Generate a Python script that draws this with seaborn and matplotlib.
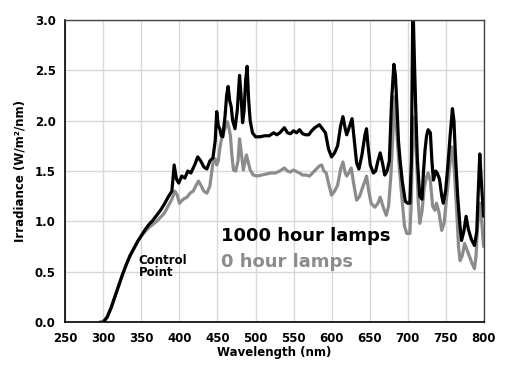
import matplotlib
matplotlib.use("Agg")
import matplotlib.pyplot as plt
import seaborn as sns
import pandas as pd

# ---- data ----
wl_1000 = [300, 305, 310, 315, 320, 325, 330, 335, 340, 345, 350, 355, 360, 365, 370, 375, 380, 385, 390,
           393, 396, 399, 403, 407, 411, 415, 420, 424, 428, 432, 436, 440, 444, 447, 449, 451, 453, 455, 457,
           460, 462, 464, 466, 468, 470, 473, 476, 479, 481, 483, 485, 487, 489, 491, 493, 496, 500, 506, 512,
           518, 524, 528, 532, 538, 542, 546, 550, 554, 558, 562, 566, 570, 574, 578, 584, 588, 592, 596, 600,
           604, 608, 612, 615, 618, 620, 624, 627, 630, 633, 636, 640, 644, 646, 648, 651, 655, 658, 661, 664,
           667, 670, 673, 676, 679, 682, 684, 686, 688, 690, 693, 697, 700, 703, 705, 707, 709, 711, 713, 716,
           719, 721, 723, 725, 727, 730, 732, 734, 737, 739, 742, 745, 747, 750, 753, 756, 759, 761, 763, 766,
           769, 771, 774, 777, 780, 784, 788, 791, 793, 795, 797, 800]
irr_1000 = [0.00, 0.05, 0.14, 0.25, 0.36, 0.47, 0.57, 0.66, 0.73, 0.80, 0.86, 0.92, 0.97, 1.01, 1.06, 1.11, 1.17, 1.24, 1.30,
            1.56, 1.42, 1.38, 1.45, 1.43, 1.50, 1.48, 1.56, 1.64, 1.60, 1.54, 1.52, 1.60, 1.63, 1.80, 2.09, 1.95, 1.92, 1.85, 1.84,
            2.05, 2.25, 2.34, 2.20, 2.14, 2.00, 1.92, 2.10, 2.45, 2.25, 1.98, 2.10, 2.40, 2.54, 2.20, 2.00, 1.88, 1.84, 1.84, 1.85,
            1.85, 1.88, 1.86, 1.88, 1.93, 1.88, 1.87, 1.90, 1.88, 1.91, 1.87, 1.86, 1.86, 1.90, 1.93, 1.96, 1.92, 1.88, 1.72, 1.64,
            1.68, 1.75, 1.95, 2.04, 1.92, 1.86, 1.95, 2.02, 1.80, 1.58, 1.52, 1.66, 1.86, 1.92, 1.75, 1.56, 1.48, 1.50, 1.60, 1.68,
            1.58, 1.46, 1.50, 1.60, 2.20, 2.56, 2.45, 2.15, 1.80, 1.62, 1.40, 1.20, 1.18, 1.18, 1.60, 3.20, 2.60, 2.05, 1.60, 1.25,
            1.22, 1.50, 1.71, 1.85, 1.91, 1.88, 1.60, 1.41, 1.50, 1.48, 1.42, 1.25, 1.18, 1.30, 1.55, 1.85, 2.12, 2.00, 1.65, 1.24,
            0.95, 0.81, 0.90, 1.05, 0.92, 0.82, 0.76, 0.90, 1.30, 1.67, 1.40, 1.05]

wl_0 = [295, 300, 305, 310, 315, 320, 325, 330, 335, 340, 345, 350, 355, 360, 365, 370, 375, 380, 385, 390,
        394, 397, 400, 405, 410, 414, 418, 422, 425, 428, 432, 436, 440, 444, 447, 449, 451, 453, 455, 458,
        461, 463, 465, 467, 469, 471, 474, 477, 479, 481, 484, 486, 488, 490, 493, 497, 502, 508, 514, 520,
        526, 532, 538, 542, 546, 550, 555, 558, 562, 566, 571, 575, 580, 584, 587, 590, 593, 596, 600, 604,
        608, 612, 615, 618, 620, 624, 626, 629, 633, 637, 641, 644, 646, 649, 652, 657, 661, 664, 668, 672,
        675, 678, 681, 683, 685, 687, 690, 693, 696, 699, 703, 705, 707, 709, 712, 714, 716, 719, 722, 725,
        727, 730, 733, 736, 738, 741, 745, 748, 751, 754, 758, 760, 762, 765, 767, 769, 772, 775, 778, 781,
        785, 788, 790, 792, 795, 797, 800]
irr_0 = [0.00, 0.01, 0.05, 0.14, 0.25, 0.36, 0.47, 0.57, 0.66, 0.73, 0.80, 0.86, 0.90, 0.94, 0.97, 1.00, 1.04, 1.08, 1.15, 1.22,
         1.30, 1.26, 1.18, 1.22, 1.24, 1.28, 1.30, 1.36, 1.40, 1.36, 1.30, 1.28, 1.35, 1.58, 1.62, 1.56, 1.60, 1.72, 1.81, 1.88,
         1.95, 1.99, 1.93, 1.85, 1.65, 1.51, 1.50, 1.60, 1.82, 1.70, 1.51, 1.58, 1.66, 1.60, 1.51, 1.46, 1.45, 1.46, 1.47, 1.48,
         1.48, 1.50, 1.53, 1.50, 1.49, 1.51, 1.49, 1.48, 1.46, 1.46, 1.45, 1.48, 1.52, 1.55, 1.56, 1.50, 1.48, 1.38, 1.26, 1.30,
         1.36, 1.52, 1.59, 1.48, 1.45, 1.50, 1.53, 1.38, 1.21, 1.25, 1.34, 1.40, 1.45, 1.30, 1.18, 1.14, 1.18, 1.24, 1.14, 1.06,
         1.15, 1.45, 1.90, 2.24, 2.00, 1.75, 1.45, 1.20, 0.95, 0.88, 0.88, 1.20, 2.04, 1.90, 1.61, 1.20, 0.98, 1.10, 1.34, 1.44,
         1.48, 1.40, 1.15, 1.11, 1.18, 1.10, 0.91, 0.98, 1.21, 1.45, 1.74, 1.65, 1.45, 1.05, 0.75, 0.61, 0.66, 0.78, 0.72, 0.66,
         0.58, 0.53, 0.65, 0.94, 1.18, 1.05, 0.75]

x_ticks = [250, 300, 350, 400, 450, 500, 550, 600, 650, 700, 750, 800]
y_ticks = [0.0, 0.5, 1.0, 1.5, 2.0, 2.5, 3.0]
series_labels = ["1000 hour lamps", "0 hour lamps"]

df = pd.concat([
    pd.DataFrame({"wl": wl_0, "irr": irr_0, "series": series_labels[1]}),
    pd.DataFrame({"wl": wl_1000, "irr": irr_1000, "series": series_labels[0]}),
], ignore_index=True)

sns.set_style("white")
plt.rcParams["font.family"] = ["DejaVu Sans"]
plt.rcParams["text.color"] = "black"
plt.rcParams["axes.labelcolor"] = "black"
plt.rcParams["xtick.color"] = "black"
plt.rcParams["ytick.color"] = "black"

fig = plt.figure(figsize=(5.32, 3.74), dpi=100)
ax = fig.add_axes([0.123, 0.139, 0.786, 0.8075])

sns.lineplot(data=df, x="wl", y="irr", hue="series",
             hue_order=[series_labels[1], series_labels[0]],
             palette=["#8c8c8c", "#000000"], linewidth=2.3, sort=False,
             estimator=None, legend=False, ax=ax)

ax.set_xlim(250, 800)
ax.set_ylim(0, 3.0)
ax.set_xticks(x_ticks)
ax.set_xticklabels([str(t) for t in x_ticks], fontsize=8.5, fontweight="bold", color="black")
ax.set_yticks(y_ticks)
ax.set_yticklabels([f"{t:.1f}" for t in y_ticks], fontsize=8.5, fontweight="bold", color="black")
ax.grid(True, color="#d8d8d8", linewidth=1.0)
ax.set_axisbelow(True)
for side in ["left", "bottom"]:
    ax.spines[side].set_color("black")
    ax.spines[side].set_linewidth(1.2)
for side in ["top", "right"]:
    ax.spines[side].set_color("#444444")
    ax.spines[side].set_linewidth(1.0)
ax.tick_params(axis="both", direction="out", length=4, width=1.2, color="black", pad=3)

ax.set_xlabel("Wavelength (nm)", fontsize=8.5, fontweight="bold", labelpad=1, color="black")
ax.set_ylabel("Irradiance (W/m²/nm)", fontsize=8.5, fontweight="bold", labelpad=6, color="black")

ax.text(346, 0.68, "Control\nPoint", fontsize=8.5, fontweight="bold", color="black",
        va="top", ha="left", linespacing=0.95)
ax.text(455, 0.85, series_labels[0], fontsize=13, fontweight="bold",
        color="black", va="center", ha="left")
ax.text(455, 0.60, series_labels[1], fontsize=13, fontweight="bold",
        color="#8c8c8c", va="center", ha="left")

fig.savefig("out.png", dpi=100)
